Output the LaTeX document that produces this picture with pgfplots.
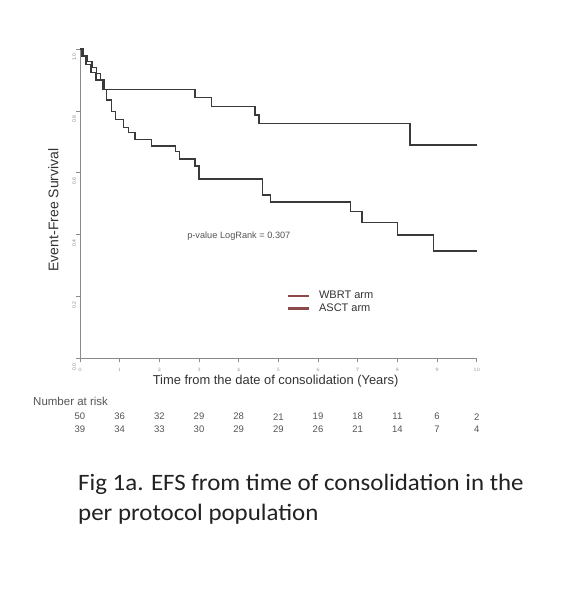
\documentclass[border=0pt]{standalone}
\usepackage{fontspec}
\setmainfont{Liberation Sans}
\newfontfamily\capfont{Carlito}
\usepackage{pgfplots}
\pgfplotsset{compat=1.18}
\definecolor{curve}{HTML}{3A3A3A}
\definecolor{legred}{HTML}{8A4A4A}
\definecolor{tickgray}{HTML}{8A8A8A}
\definecolor{txtgray}{HTML}{555555}
\definecolor{labtext}{HTML}{333333}
\definecolor{captext}{HTML}{222222}
\begin{document}
\begin{tikzpicture}
\useasboundingbox (0pt,0pt) rectangle (574pt,596pt);
\fill[white] (0pt,0pt) rectangle (574pt,596pt);
\begin{axis}[
  at={(80pt,237.7pt)}, anchor=south west,
  x=39.67pt, y=309.3pt,
  xmin=0, xmax=10, ymin=0, ymax=1,
  axis x line*=bottom, axis y line*=left,
  axis line style={-, draw=tickgray, line width=0.6pt},
  xtick={0,1,...,10},
  ytick={0,0.2,0.4,0.6,0.8,1.0},
  yticklabels={0.0,0.2,0.4,0.6,0.8,1.0},
  tick align=outside,
  major tick length=4pt,
  tick style={draw=tickgray, line width=0.5pt},
  ticklabel style={font=\fontsize{5}{5}\selectfont, text=tickgray},
  yticklabel style={rotate=90, anchor=south, inner sep=0pt, xshift=-8.5pt},
  xticklabel style={anchor=north, inner sep=0pt, yshift=-6pt},
  clip=false,
  legend style={at={(axis cs:5.23,0.221)}, anchor=north west, draw=none, fill=none,
    font=\fontsize{11}{12}\selectfont, text=labtext, row sep=1.5pt, inner sep=0pt,
    nodes={inner sep=1pt}},
  legend cell align=left,
  legend image code/.code={\fill[legred] (0pt,-0.75pt) rectangle (20pt,0.75pt); \path (30pt,0pt);},
]
\addplot[const plot, curve, line width=1.3pt, forget plot] coordinates {
 (0,1.0) (0.05,0.975) (0.15,0.95) (0.28,0.925) (0.4,0.9) (0.58,0.870)
 (2.90,0.844) (3.32,0.813) (4.41,0.787) (4.51,0.759) (8.32,0.690) (10,0.690)};
\addplot[const plot, curve, line width=1.3pt, forget plot] coordinates {
 (0,1.0) (0.08,0.98) (0.18,0.96) (0.3,0.94) (0.42,0.92) (0.52,0.90) (0.62,0.870)
 (0.67,0.835) (0.80,0.797) (0.90,0.773) (1.09,0.747) (1.22,0.729) (1.39,0.708)
 (1.81,0.686) (2.40,0.668) (2.50,0.644) (2.90,0.622) (3.00,0.580) (4.60,0.528)
 (4.81,0.505) (6.81,0.474) (7.11,0.438) (8.00,0.399) (8.91,0.347) (10,0.347)};
\addlegendimage{legred}
\addlegendentry{WBRT arm}
\addlegendimage{legred}
\addlegendentry{ASCT arm}
\node[anchor=west, inner sep=0pt, font=\fontsize{9.2}{10}\selectfont, text=txtgray] at (axis cs:2.70,0.396) {p-value LogRank = 0.307};
\end{axis}
\node[rotate=90, font=\fontsize{14}{16}\selectfont, text=labtext] at (53.3pt,386pt) {Event-Free Survival};
\node[font=\fontsize{12.9}{14}\selectfont, text=labtext] at (275.6pt,215.3pt) {Time from the date of consolidation (Years)};
\node[anchor=west, inner sep=0pt, font=\fontsize{11.5}{12}\selectfont, text=txtgray] at (33pt,194.3pt) {Number at risk};
\foreach \v [count=\i from 0] in {50,36,32,29,28,21,19,18,11,6,2}
  \node[font=\fontsize{9.5}{10}\selectfont, text=txtgray] at ({(80+39.67*\i)*1pt},179.3pt) {\v};
\foreach \v [count=\i from 0] in {39,34,33,30,29,29,26,21,14,7,4}
  \node[font=\fontsize{9.5}{10}\selectfont, text=txtgray] at ({(80+39.67*\i)*1pt},166.7pt) {\v};
\node[anchor=base west, inner sep=0pt, font=\capfont\fontsize{23.5}{26}\selectfont, text=captext] at (78pt,105pt) {\scalebox{1.06}[1]{Fig 1a. EFS from time of consolidation in the}};
\node[anchor=base west, inner sep=0pt, font=\capfont\fontsize{23.5}{26}\selectfont, text=captext] at (78pt,75pt) {\scalebox{1.06}[1]{per protocol population}};
\end{tikzpicture}
\end{document}
